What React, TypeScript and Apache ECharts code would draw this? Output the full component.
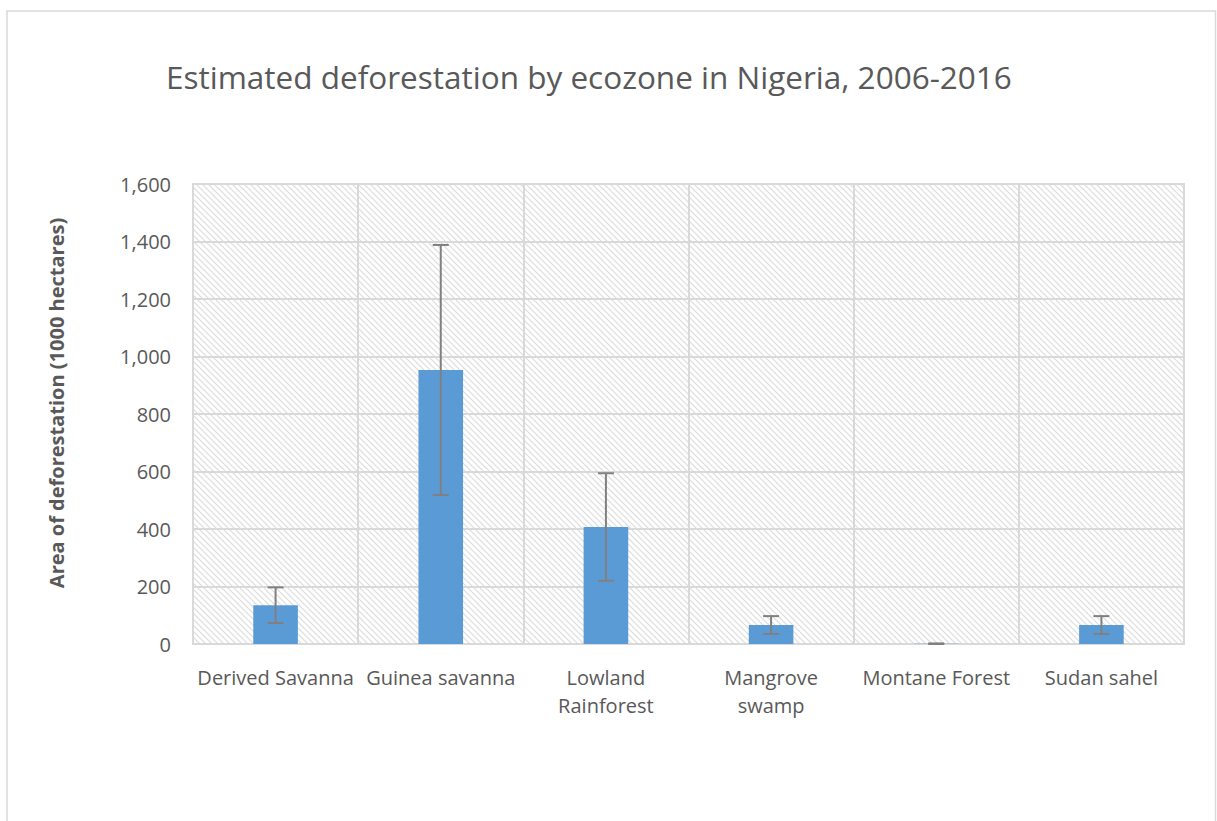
import React, { useEffect, useRef } from "react";
import * as echarts from "echarts";

const categories = ["Derived Savanna", "Guinea savanna", "Lowland\nRainforest", "Mangrove\nswamp", "Montane Forest", "Sudan sahel"];
const values = [135, 953, 407, 66, 1, 66];
const errors = [62, 435, 187, 31, 1, 31];
const yTicks = { min: 0, max: 1600, interval: 200 };

function makePattern(): HTMLCanvasElement {
  const c = document.createElement("canvas");
  const s = 6;
  c.width = s;
  c.height = s;
  const ctx = c.getContext("2d")!;
  ctx.fillStyle = "#ffffff";
  ctx.fillRect(0, 0, s, s);
  ctx.strokeStyle = "#dcdcdc";
  ctx.lineWidth = 1.2;
  ctx.beginPath();
  ctx.moveTo(-1, -1);
  ctx.lineTo(s + 1, s + 1);
  ctx.moveTo(-1, s - 1);
  ctx.lineTo(1, s + 1);
  ctx.moveTo(s - 1, -1);
  ctx.lineTo(s + 1, 1);
  ctx.stroke();
  return c;
}

export default function App() {
  const ref = useRef<HTMLDivElement>(null);
  useEffect(() => {
    document.body.style.margin = "0";
    const chart = echarts.init(ref.current!, null, { renderer: "svg" });
    const canvas = makePattern();
    const font = "'Open Sans', 'Liberation Sans', sans-serif";
    chart.setOption({
      animation: false,
      backgroundColor: "#ffffff",
      title: {
        text: "Estimated deforestation by ecozone in Nigeria, 2006-2016",
        left: 161,
        top: 55,
        textStyle: { fontFamily: font, fontSize: 31.5, fontWeight: "normal", color: "#595959" },
      },
      graphic: [
        {
          type: "rect",
          shape: { x: 7, y: 11, width: 1208.5, height: 900 },
          style: { fill: "none", stroke: "#d9d9d9", lineWidth: 1.5 },
          silent: true,
          z: -10,
        },
      ],
      grid: {
        left: 193,
        right: 33,
        top: 184,
        bottom: 177,
        show: true,
        backgroundColor: { image: canvas, repeat: "repeat", imageWidth: 6, imageHeight: 6 } as any,
        borderColor: "#d9d9d9",
        borderWidth: 2,
      },
      xAxis: {
        type: "category",
        data: categories,
        axisLine: { show: true, lineStyle: { color: "#d9d9d9", width: 2 } },
        axisTick: { show: false },
        splitLine: { show: true, lineStyle: { color: "#d9d9d9", width: 2 } },
        axisLabel: {
          interval: 0,
          margin: 19,
          fontFamily: font,
          fontSize: 20,
          color: "#595959",
          lineHeight: 28,
        },
      },
      yAxis: {
        type: "value",
        min: yTicks.min,
        max: yTicks.max,
        interval: yTicks.interval,
        name: "Area of deforestation (1000 hectares)",
        nameLocation: "middle",
        nameGap: 127,
        nameTextStyle: { fontFamily: font, fontSize: 20, fontWeight: "bold", color: "#595959", padding: [0, 0, 0, 22] },
        axisLine: { show: false },
        axisTick: { show: false },
        splitLine: { show: true, lineStyle: { color: "#d9d9d9", width: 2 } },
        axisLabel: {
          margin: 22,
          fontFamily: font,
          fontSize: 20,
          color: "#595959",
          formatter: (v: number) => v.toLocaleString("en-US"),
        },
      },
      series: [
        {
          type: "bar",
          data: values,
          barWidth: "27%",
          itemStyle: { color: "#5b9bd5" },
          z: 2,
        },
        {
          type: "custom",
          z: 3,
          data: values.map((v, i) => [i, v - errors[i], v + errors[i]]),
          renderItem: (params: any, api: any) => {
            const i = api.value(0);
            const lo = api.coord([i, api.value(1)]);
            const hi = api.coord([i, api.value(2)]);
            const hw = 8;
            const style = { stroke: "#808080", lineWidth: 2, fill: "none" };
            return {
              type: "group",
              children: [
                { type: "line", shape: { x1: hi[0], y1: hi[1], x2: lo[0], y2: lo[1] }, style },
                { type: "line", shape: { x1: hi[0] - hw, y1: hi[1], x2: hi[0] + hw, y2: hi[1] }, style },
                { type: "line", shape: { x1: lo[0] - hw, y1: lo[1], x2: lo[0] + hw, y2: lo[1] }, style },
              ],
            };
          },
        },
      ],
    });
    return () => chart.dispose();
  }, []);
  return <div ref={ref} style={{ width: 1217, height: 821 }} />;
}
